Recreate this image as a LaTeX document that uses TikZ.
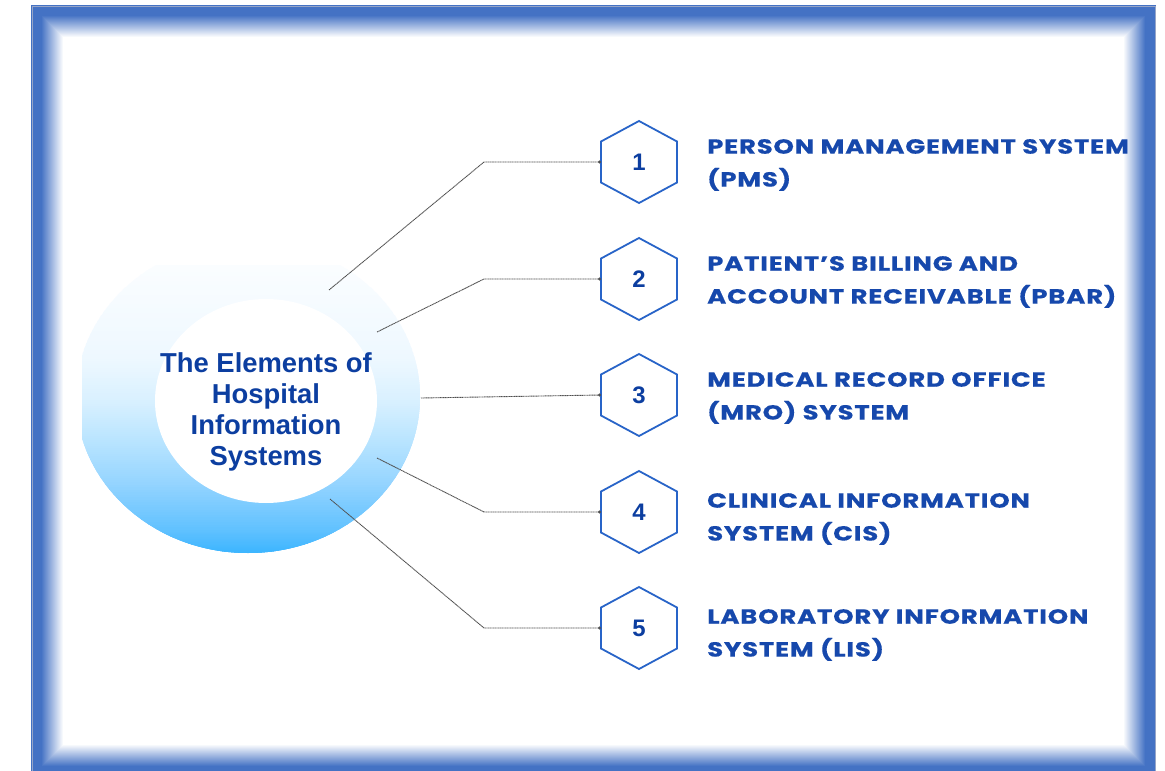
\documentclass[tikz,border=0pt]{standalone}
\usepackage{fontspec}
\setmainfont{Liberation Sans}
\newfontfamily\itemfont{Poppins}[FakeStretch=1.27,LetterSpace=4,BoldFeatures={FakeBold=0.5}]
\usetikzlibrary{arrows.meta,calc}
\definecolor{frameblue}{RGB}{68,114,196}
\definecolor{frameedge}{RGB}{150,165,200}
\definecolor{titleblue}{RGB}{12,62,160}
\definecolor{itemblue}{RGB}{22,72,172}
\definecolor{hexblue}{RGB}{40,100,200}
\definecolor{rc0}{RGB}{56,180,255}
\definecolor{rc1}{RGB}{94,192,255}
\definecolor{rc2}{RGB}{150,213,255}
\definecolor{rc3}{RGB}{184,228,255}
\definecolor{rc4}{RGB}{216,240,255}
\definecolor{rc5}{RGB}{238,248,255}
\definecolor{rc6}{RGB}{250,253,255}
\definecolor{linkgray}{RGB}{80,80,80}
\tikzset{
  hexline/.style={draw=hexblue, line width=1.8pt, line join=miter},
  numlabel/.style={inner sep=0pt, text=titleblue, font=\fontsize{24}{24}\selectfont\bfseries},
  itemlabel/.style={inner sep=0pt, anchor=west, align=left, text=itemblue,
    font=\itemfont\fontsize{20.5}{33}\selectfont\bfseries},
  link/.style={draw=linkgray, line width=0.9pt, dash pattern=on 1.2pt off 0.5pt,
    -{Circle[length=3pt]}},
}
\begin{document}
\begin{tikzpicture}[x=1bp,y=-1bp]
\useasboundingbox (0,0) rectangle (1165,771);
\fill[white] (0,0) rectangle (1165,771);
% frame with inward fade
\foreach \i in {0,...,32}{
  \pgfmathsetmacro\p{max(0,min(100,100*(32-\i)/22))}
  \draw[line width=1.2pt, color=frameblue!\p!white] (32+\i,6+\i) rectangle (1155-\i,776-\i);
}
\draw[line width=0.8pt, frameedge] (32,6) rectangle (1155,776);
% ring (vertical gradient built from thin strips)
\begin{scope}
  \clip (82,265) rectangle (430,560);
  \clip (248,397) ellipse [x radius=172, y radius=156];
  \foreach \ya/\yb/\ca/\cb in {553/530/rc0/rc1, 530/480/rc1/rc2, 480/440/rc2/rc3,
      440/400/rc3/rc4, 400/357/rc4/rc5, 357/265/rc5/rc6}{
    \foreach \t in {0,...,19}{
      \pgfmathsetmacro\yy{\ya+(\yb-\ya)*\t/20}
      \pgfmathsetmacro\yz{\ya+(\yb-\ya)*(\t+1)/20-0.6}
      \pgfmathsetmacro\pp{100*(\t+0.5)/20}
      \fill[\cb!\pp!\ca] (70,\yy+2) rectangle (440,\yz);
    }
  }
\end{scope}
\fill[white] (266,401) ellipse [x radius=111, y radius=102];
\node[inner sep=0pt, align=center, text=titleblue,
  font=\fontsize{27.5}{31}\selectfont\bfseries] (core) at (266,412)
  {The Elements of\\Hospital\\Information\\Systems};
% hexagons
\foreach \k/\y in {1/162,2/279,3/395,4/512,5/628}{
  \node[numlabel] (h\k) at (639,\y) {\k};
  \draw[hexline] ($(h\k)+(0,-41)$) -- ($(h\k)+(38,-20.5)$) -- ($(h\k)+(38,20.5)$)
    -- ($(h\k)+(0,41)$) -- ($(h\k)+(-38,20.5)$) -- ($(h\k)+(-38,-20.5)$) -- cycle;
  \coordinate (h\k w) at ($(h\k)+(-38,0)$);
}
% item texts
\node[itemlabel] (t1) at (707,165) {PERSON MANAGEMENT SYSTEM\\(PMS)};
\node[itemlabel] (t2) at (707,282) {PATIENT’S BILLING AND\\ACCOUNT RECEIVABLE (PBAR)};
\node[itemlabel] (t3) at (707,398) {MEDICAL RECORD OFFICE\\(MRO) SYSTEM};
\node[itemlabel] (t4) at (707,519) {CLINICAL INFORMATION\\SYSTEM (CIS)};
\node[itemlabel] (t5) at (707,635) {LABORATORY INFORMATION\\SYSTEM (LIS)};
% connectors
\coordinate (s1) at (329,290); \coordinate (b1) at (484,162);
\coordinate (s2) at (377,332); \coordinate (b2) at (484,279);
\coordinate (s3) at (421,398);
\coordinate (s4) at (377,458); \coordinate (b4) at (484,512);
\coordinate (s5) at (330,499); \coordinate (b5) at (484,628);
\draw[link] (s1) -- (b1) -- (h1w);
\draw[link] (s2) -- (b2) -- (h2w);
\draw[link] (s3) -- (h3w);
\draw[link] (s4) -- (b4) -- (h4w);
\draw[link] (s5) -- (b5) -- (h5w);
\end{tikzpicture}
\end{document}
